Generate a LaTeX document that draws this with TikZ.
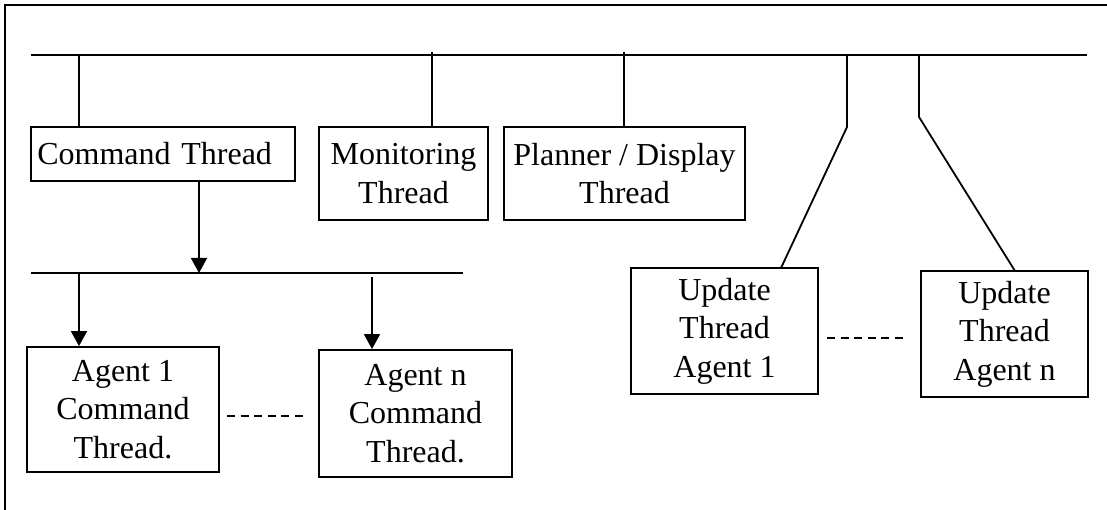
\documentclass[tikz,border=0pt]{standalone}
\usepackage{fontspec}
\setmainfont{Liberation Serif}
\usetikzlibrary{arrows.meta}
\tikzset{
  thread/.style={draw, line width=1.8pt, inner sep=0pt, align=center,
    font=\fontsize{32}{38.5}\selectfont},
  wire/.style={line width=1.8pt},
  arr/.style={wire, -{Triangle[length=15pt,width=16pt]}},
  dots/.style={line width=1.8pt, dash pattern=on 8pt off 5.5pt}
}
\begin{document}
\begin{tikzpicture}[x=1pt, y=-1pt]
  \useasboundingbox (0,0) rectangle (1107,510);
  % outer frame (top and left edges)
  \draw[line width=2.2pt] (5,510) -- (5,5) -- (1107,5);

  % thread boxes
  \node[thread, minimum width=264.3pt, minimum height=54pt, text width=251pt, align=left]
    (cmd) at (162.85,154) {Command Thread};
  \node[thread, minimum width=169pt, minimum height=93pt] (mon) at (403.5,173.5) {Monitoring\\Thread};
  \node[thread, minimum width=241pt, minimum height=93pt] (plan) at (624.5,173.5) {Planner / Display\\Thread};
  \node[thread, minimum width=187pt, minimum height=126pt] (u1) at (724.5,331) {Update\\Thread\\Agent 1};
  \node[thread, minimum width=167pt, minimum height=126pt] (un) at (1004.5,334) {Update\\Thread\\Agent n};
  \node[thread, minimum width=192pt, minimum height=125pt] (a1) at (123,409.5) {Agent 1\\Command\\Thread.};
  \node[thread, minimum width=193pt, minimum height=127pt] (an) at (415.5,413.5) {Agent n\\Command\\Thread.};

  % main bus
  \coordinate (busL) at (31,55);
  \coordinate (busR) at (1087,55);
  \draw[wire] (busL) -- (busR);
  \coordinate (tapC) at (79,55);
  \coordinate (tapM) at (432,52);
  \coordinate (tapP) at (624,52);
  \coordinate (tapU1) at (847,55);
  \coordinate (bendU1) at (847,127);
  \coordinate (endU1) at (781,268);
  \coordinate (tapUn) at (919,55);
  \coordinate (bendUn) at (919,117);
  \coordinate (endUn) at (1015,271);

  \draw[wire] (tapC) -- (tapC |- cmd.north);
  \draw[wire] (tapM) -- (tapM |- mon.north);
  \draw[wire] (tapP) -- (tapP |- plan.north);
  \draw[wire] (tapU1) -- (bendU1) -- (endU1);
  \draw[wire] (tapUn) -- (bendUn) -- (endUn);

  % command bus
  \coordinate (cbL) at (31,273);
  \coordinate (cbR) at (463,273);
  \coordinate (cbC) at (199,273);
  \coordinate (cbA1) at (79,273);
  \coordinate (cbAn) at (372,277);
  \draw[wire] (cbL) -- (cbR);
  \draw[arr] (cbC |- cmd.south) -- (cbC);
  \draw[arr] (cbA1) -- (cbA1 |- a1.north);
  \draw[arr] (cbAn) -- (cbAn |- an.north);

  % ellipses between agents
  \coordinate (da1) at (227,416);
  \coordinate (dan) at (304,416);
  \draw[dots] (da1) -- (dan);
  \coordinate (du1) at (827,338);
  \coordinate (dun) at (905,338);
  \draw[dots] (du1) -- (dun);
\end{tikzpicture}
\end{document}
